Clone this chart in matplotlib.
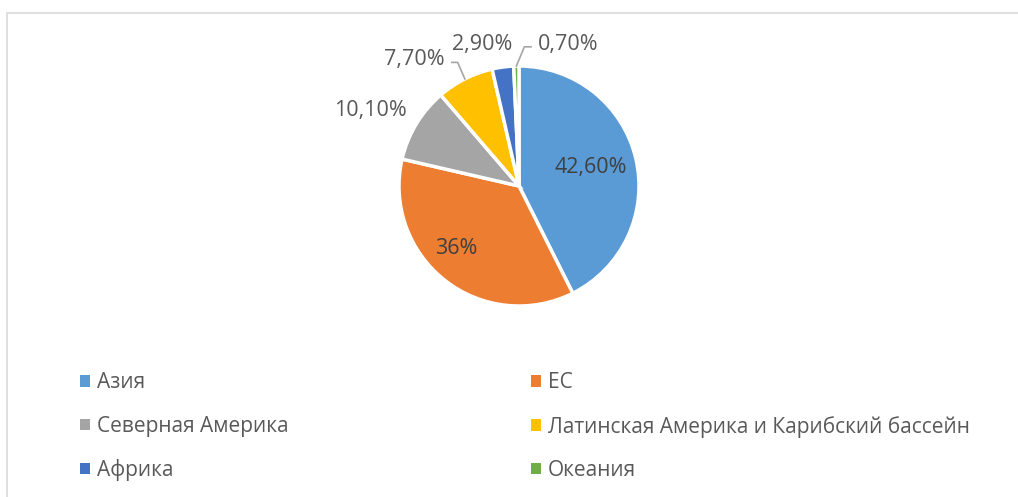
import matplotlib.pyplot as plt
from matplotlib.patches import Patch, Rectangle
import numpy as np

plt.rcParams['font.family'] = ['Open Sans', 'DejaVu Sans']

regions = ['Азия', 'ЕС', 'Северная Америка',
           'Латинская Америка и Карибский бассейн', 'Африка', 'Океания']
shares = [42.6, 36, 10.1, 7.7, 2.9, 0.7]
labels = ['42,60%', '36%', '10,10%', '7,70%', '2,90%', '0,70%']
colors = ['#5B9BD5', '#ED7D31', '#A5A5A5', '#FFC000', '#4472C4', '#70AD47']

# where each label sits (radius units, relative to pie centre)
label_pos = [(0.60, 0.15), (-0.52, -0.52), (-1.24, 0.63),
             (-0.87, 1.05), (-0.31, 1.18), (0.41, 1.18)]
leader = [False, False, False, True, False, True]
inside = [True, True, False, False, False, False]

txt = '#595959'

fig = plt.figure(figsize=(10.18, 4.97), dpi=100)
fig.patches.append(Rectangle((7 / 1018, -0.1), 1.2, 1.1 - 13 / 497,
                             transform=fig.transFigure, fill=False,
                             edgecolor='#D9D9D9', linewidth=1.2))

ax = fig.add_axes([339 / 1018, 131 / 497, 360 / 1018, 360 / 497])
wedges, _ = ax.pie(shares, colors=colors, startangle=90, counterclock=False,
                   radius=1.0, wedgeprops=dict(edgecolor='white', linewidth=2.5))
ax.set_xlim(-1.5, 1.5)
ax.set_ylim(-1.5, 1.5)
ax.set_aspect('equal')
ax.axis('off')

for w, lab, (lx, ly), lead, ins in zip(wedges, labels, label_pos, leader, inside):
    if lead:
        mid = np.deg2rad((w.theta1 + w.theta2) / 2)
        ex, ey = 1.0 * np.cos(mid), 1.0 * np.sin(mid)
        side = 1 if lx > ex else -1
        hx = lx - side * 0.31
        ax.plot([ex, ex + (hx - ex) * 0.55, hx], [ey, ly - 0.02, ly - 0.02],
                color='#A6A6A6', linewidth=1.2)
    ax.text(lx, ly, lab, ha='center', va='center', fontsize=15.5,
            color='#404040' if ins else txt)

h = [Patch(facecolor=c) for c in colors]
kw = dict(loc='upper left', frameon=False, fontsize=15, labelcolor=txt,
          handlelength=0.45, handleheight=0.45, handletextpad=0.35,
          labelspacing=1.07, borderaxespad=0)
fig.legend([h[0], h[2], h[4]], [regions[0], regions[2], regions[4]],
           bbox_to_anchor=(72 / 1018, 1 - 364 / 497), **kw)
fig.legend([h[1], h[3], h[5]], [regions[1], regions[3], regions[5]],
           bbox_to_anchor=(523 / 1018, 1 - 364 / 497), **kw)

fig.savefig('out.png', dpi=100)
